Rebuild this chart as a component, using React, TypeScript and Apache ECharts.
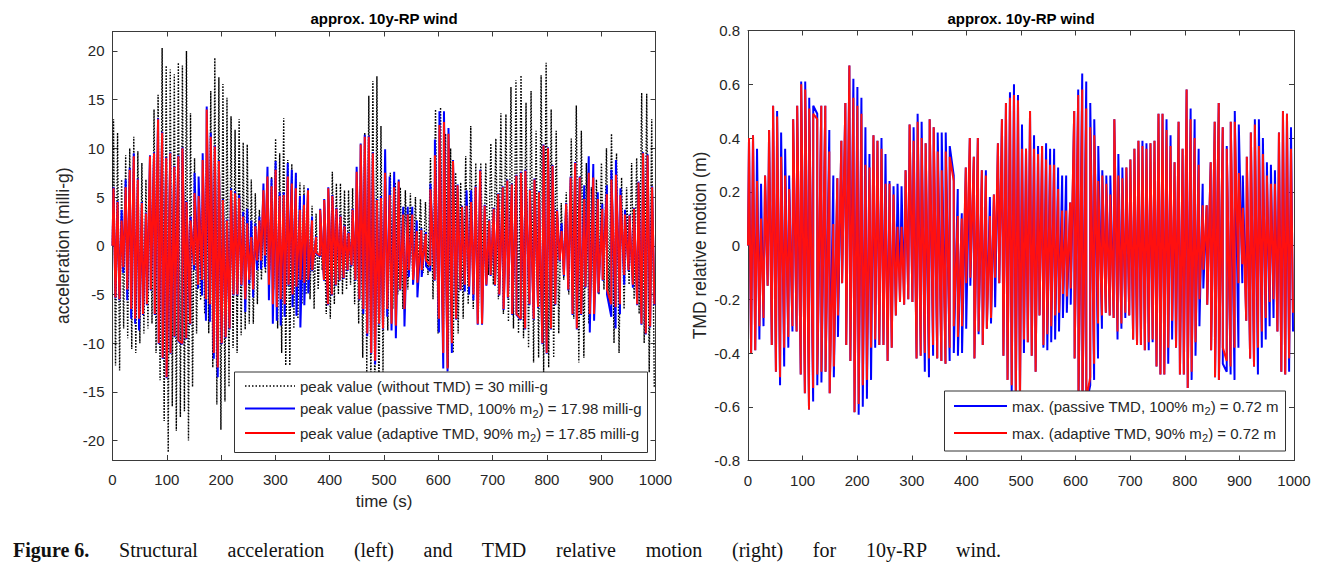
import { useEffect, useRef } from "react";
import * as echarts from "echarts";

// ---------- LEFT: structural acceleration (milli-g), peak values per half-cycle ----------
// first 500 s
const accBlackTopA = [13, 11.6, 6.8, 9.3, 10, 11.2, 9.7, 8.5, 6.8, 9.2, 14, 15.5, 20.3, 18.5, 18.1, 17.6, 18.8, 18.5, 20, 13.6, 9, 4, 5.4, 10, 15.9, 19.3, 17.3, 16.6, 15.2, 13.3, 11.9, 13, 10.6, 10.4, 6.8, 5.4, 3.7, 2.7, 3, 7.1, 11, 9.5, 13.1, 8.8, 8.4, 7.4, 6.5, 6.2, 4.8, 4.1, 3.3, 1.3, 1, 3.7, 7.6, 6.4, 6.4, 5.7, 5.7, 5.9, 5.7, 7.4, 11.6, 15.4, 16.9, 17.4, 12.3];
const accBlackBotA = [-12.3, -12.8, -8.5, -9.5, -10.6, -11, -10, -9, -8.5, -8, -11, -13.8, -18, -21.2, -16.5, -19, -17.6, -17, -20, -14.5, -9, -5.6, -7, -9, -12.5, -16.3, -18.9, -16, -14.5, -10.5, -11, -9.2, -8.6, -8, -8, -6, -3.5, -2.8, -2.5, -4.5, -8.5, -11, -12.3, -12.3, -8.5, -7.5, -6, -5, -5.5, -6.5, -4.5, -2.5, -7, -7.5, -6, -5, -5, -4.5, -4, -6, -8, -11.5, -13, -15, -17, -17.5, -13];
const accBlueTopA = [6.0, 4.6, 3.7, 6.8, 8.0, 9.5, 6.9, 4.5, 3.4, 9.3, 9.6, 13.1, 11.7, 9.1, 9.6, 8.2, 9.3, 10.1, 4.6, 3.0, 7.5, 7.1, 9.5, 14.3, 11.6, 10.3, 8.8, 4.8, 2.7, 5.9, 5.6, 5.2, 3.5, 3.8, 2.6, 2.3, 3.0, 6.4, 8.1, 6.9, 8.7, 5.5, 5.5, 8.5, 7.8, 7.5, 5.1, 5.2, 5.9, 3.0, 1.0, 3.8, 4.8, 6.0, 5.2, 3.9, 3.1, 2.1, 1.4, 3.8, 8.1, 10.5, 11.4, 11.3, 9.6, 4.8, 5.1];
const accBlueBotA = [-5.4, -5.6, -2.8, -5.6, -7.5, -8.0, -8.7, -7.1, -6.1, -4.6, -7.1, -10.1, -11.6, -13.6, -11.1, -9.4, -9.8, -10.1, -9.6, -8.1, -2.5, -4.4, -5.1, -7.7, -7.8, -11.6, -13.5, -10.1, -9.5, -8.6, -5.1, -5.1, -4.1, -6.8, -3.9, -5.3, -2.5, -2.4, -2.2, -5.6, -8.0, -7.7, -8.2, -7.3, -4.1, -6.3, -7.2, -8.4, -6.1, -4.9, -2.6, -0.8, -1.1, -3.6, -6.1, -5.1, -4.1, -3.6, -3.4, -2.6, -2.1, -3.6, -5.6, -7.0, -9.3, -11.1, -12.2, -8.1, -8.6];
const accRedTopA = [5.9, 4.5, 2.6, 6.0, 7.8, 9.2, 6.8, 4.4, 3.3, 9.2, 9.5, 13.0, 11.6, 9.0, 9.5, 8.1, 9.2, 10.0, 4.5, 2.6, 5.4, 5.1, 8.8, 14.0, 11.2, 10.2, 8.7, 4.7, 2.6, 5.7, 5.4, 4.9, 3.0, 2.3, 0.9, 2.0, 2.6, 5.7, 7.1, 6.1, 7.8, 5.1, 5.2, 7.1, 6.4, 5.9, 3.7, 4.2, 5.7, 2.6, 0.9, 3.7, 4.7, 5.9, 5.1, 3.8, 3.0, 2.0, 1.3, 3.7, 7.6, 10.4, 11.2, 11.2, 9.5, 4.7, 4.9];
const accRedBotA = [-5.3, -5.5, -2.2, -4.5, -6.5, -7.5, -7.5, -7.0, -6.0, -4.5, -7.0, -10.0, -11.5, -13.5, -11.0, -9.3, -9.7, -10.0, -9.5, -8.0, -2.0, -4.0, -3.5, -5.5, -6.0, -11.0, -12.5, -10.0, -9.4, -8.5, -5.0, -5.0, -4.0, -5.5, -3.5, -4.5, -1.5, -1.5, -1.0, -4.0, -6.0, -6.3, -5.5, -6.0, -4.0, -5.0, -4.2, -3.5, -3.8, -3.5, -2.5, -0.7, -1.0, -3.5, -6.0, -5.0, -4.0, -3.5, -3.3, -2.5, -2.0, -3.5, -5.5, -6.5, -9.0, -11.0, -11.8, -8.0, -8.5];
// last 500 s
const accBlackTopB = [8, 7.5, 6.5, 6, 5.7, 5.4, 5, 4.8, 4.5, 9, 14, 14.2, 11.5, 10, 7.5, 6.5, 9.2, 12.3, 8.5, 8.5, 8.5, 10.5, 11, 13.6, 13.5, 16.3, 17, 17.5, 14.7, 15.9, 11.8, 17.5, 18.8, 14, 11.8, 4.4, 5.5, 11, 14.4, 11.8, 8.5, 6, 6.8, 8.5, 10, 11.5, 9.5, 7, 6, 8.5, 9, 15.7, 15.6, 13];
const accBlackBotB = [-8.7, -6.5, -5, -6.5, -4.5, -4, -3.5, -2.8, -3, -5.5, -9, -11, -12.5, -11, -9, -7.5, -6, -6.5, -7.5, -3.5, -3, -4, -5.5, -7, -7.8, -8.5, -9, -9.5, -10.5, -12, -11.5, -13, -12.5, -11.5, -9, -3.5, -5, -7.5, -12, -11.5, -8, -6, -5, -4.5, -6, -10, -11, -6.5, -4, -5.5, -7, -10, -13, -14.5];
const accBlueTopB = [9.9, 7.1, 7.6, 6.8, 4.0, 4.0, 4.0, 2.6, 1.8, 1.4, 6.4, 10.9, 13.8, 13.8, 12.1, 8.8, 6.3, 4.1, 5.7, 5.7, 6.1, 7.8, 4.2, 2.7, 3.9, 5.4, 6.1, 6.8, 6.4, 7.3, 7.6, 7.8, 5.8, 6.9, 5.6, 10.4, 10.1, 8.3, 3.7, 2.3, 4.4, 7.1, 8.6, 7.1, 6.2, 9.2, 8.4, 5.5, 4.3, 6.2, 7.8, 8.8, 5.9, 3.7, 3.2, 3.9, 6.6, 9.6, 9.4, 6.1];
const accBlueBotB = [-7.3, -8.7, -9.5, -4.6, -8.3, -3.2, -4.0, -5.3, -3.2, -2.1, -2.6, -3.6, -8.9, -12.6, -12.9, -11.0, -7.6, -4.6, -4.7, -5.0, -5.6, -8.1, -8.1, -4.1, -3.1, -4.1, -5.1, -6.6, -5.4, -7.1, -7.1, -7.6, -8.6, -6.1, -7.6, -6.4, -10.1, -11.1, -8.6, -6.1, -1.6, -3.1, -4.6, -7.1, -8.6, -7.1, -4.3, -8.9, -7.7, -4.9, -3.6, -5.0, -7.3, -8.5, -7.0, -4.0, -2.6, -4.3, -6.1, -8.1, -9.1, -8.4, -6.1];
const accRedTopB = [7.5, 5.2, 6.0, 6.6, 3.2, 3.2, 3.2, 1.5, 1.6, 1.2, 5.8, 9.3, 12.4, 12.7, 11.5, 8.7, 6.2, 4.0, 4.1, 4.5, 6.0, 7.7, 4.1, 2.6, 3.8, 5.3, 6.0, 6.7, 6.3, 7.2, 7.5, 7.7, 5.7, 6.8, 5.5, 10.3, 10.0, 8.2, 3.6, 1.5, 4.3, 7.0, 8.5, 7.0, 4.8, 7.5, 7.0, 4.8, 3.8, 5.3, 6.8, 7.3, 5.2, 3.2, 3.1, 3.8, 6.5, 9.5, 9.3, 6.0];
const accRedBotB = [-6.5, -8.0, -8.2, -4.5, -6.5, -2.5, -3.5, -3.8, -2.5, -1.5, -2.0, -3.5, -7.5, -11.0, -12.6, -10.0, -7.5, -4.5, -4.0, -4.2, -5.0, -8.0, -8.0, -4.0, -3.0, -4.0, -5.0, -6.5, -5.3, -7.0, -7.0, -7.5, -8.5, -6.0, -7.5, -6.3, -10.0, -11.0, -8.5, -6.0, -1.5, -3.0, -4.5, -7.0, -8.5, -7.0, -4.2, -7.0, -7.0, -4.8, -3.5, -4.5, -6.0, -6.3, -6.0, -3.0, -2.5, -4.0, -6.0, -8.0, -9.0, -8.3, -6.0];

// ---------- RIGHT: TMD relative motion (m) ----------
const motBlueTopA = [.40, .41, .36, .23, .26, .43, .52, .50, .42, .36, .26, .47, .52, .61, .61, .55, .52, .49, .52, .52, .43, .26, .25, .39, .53, .67, .62, .59, .55, .44, .34, .41, .39, .40, .34, .24, .22, .23, .22, .28, .45, .44, .49, .46, .38, .47, .44, .42, .42, .42, .37, .26, .21, .12, .29, .40, .33, .40, .28, .28, .18, .19, .38, .47, .53, .57, .60, .56];
const motBlueBotA = [-.40, -.39, -.35, -.30, -.15, -.37, -.47, -.52, -.45, -.38, -.32, -.32, -.48, -.55, -.61, -.58, -.52, -.51, -.47, -.55, -.49, -.34, -.14, -.37, -.43, -.62, -.63, -.60, -.57, -.50, -.38, -.37, -.37, -.43, -.38, -.26, -.21, -.22, -.20, -.21, -.42, -.41, -.47, -.49, -.41, -.42, -.43, -.44, -.43, -.40, -.41, -.40, -.31, -.15, -.42, -.33, -.37, -.31, -.29, -.23, -.14, -.41, -.50, -.55, -.58, -.58];
const motRedTopA = [.40, .41, .24, .10, .26, .43, .52, .48, .33, .26, .21, .47, .52, .60, .58, .51, .49, .47, .52, .52, .35, .08, .25, .39, .53, .67, .55, .52, .49, .30, .29, .41, .39, .36, .23, .23, .19, .07, .07, .28, .45, .39, .46, .40, .38, .47, .44, .35, .28, .35, .33, .24, .11, .10, .29, .40, .33, .40, .28, .26, .11, .19, .38, .47, .53, .55, .56, .54];
const motRedBotA = [-.40, -.39, -.30, -.27, -.15, -.37, -.47, -.49, -.38, -.34, -.30, -.32, -.48, -.55, -.61, -.53, -.48, -.47, -.47, -.55, -.45, -.26, -.14, -.37, -.43, -.62, -.59, -.52, -.50, -.38, -.35, -.37, -.37, -.43, -.38, -.26, -.21, -.22, -.20, -.21, -.42, -.41, -.40, -.42, -.37, -.42, -.43, -.44, -.38, -.30, -.34, -.30, -.14, -.12, -.42, -.32, -.37, -.31, -.27, -.12, -.14, -.41, -.50, -.52, -.57, -.58];
const motBlueTopB = [.45, .36, .50, .41, .37, .37, .38, .36, .36, .29, .26, .26, .16, .50, .58, .64, .61, .53, .47, .37, .28, .26, .26, .47, .34, .29, .29, .32, .36, .39, .39, .38, .38, .39, .49, .49, .47, .41, .31, .46, .36, .58, .51, .47, .36, .23, .15, .31, .46, .53, .44, .37, .46, .50, .45, .26, .33, .42, .47, .47, .40, .31, .30, .28, .42, .50, .49, .44];
const motBlueBotB = [-.40, -.36, -.41, -.47, -.26, -.38, -.39, -.36, -.35, -.32, -.27, -.25, -.22, -.42, -.58, -.62, -.59, -.52, -.50, -.42, -.31, -.25, -.26, -.27, -.35, -.31, -.27, -.26, -.35, -.37, -.37, -.39, -.39, -.36, -.45, -.48, -.48, -.44, -.35, -.38, -.48, -.48, -.53, -.50, -.41, -.30, -.16, -.22, -.39, -.49, -.50, -.44, -.47, -.48, -.50, -.38, -.14, -.28, -.42, -.45, -.48, -.38, -.35, -.30, -.27, -.32, -.47, -.48, -.47, -.32];
const motRedTopB = [.36, .36, .50, .36, .34, .37, .32, .30, .30, .21, .13, .13, .16, .50, .56, .58, .51, .44, .41, .24, .26, .23, .19, .47, .26, .25, .29, .32, .36, .39, .37, .36, .38, .39, .49, .49, .43, .37, .31, .46, .36, .58, .47, .40, .30, .15, .15, .31, .46, .53, .44, .36, .46, .46, .27, .14, .33, .42, .45, .37, .34, .26, .23, .23, .42, .50, .49, .36];
const motRedBotB = [-.35, -.36, -.41, -.47, -.26, -.37, -.33, -.30, -.26, -.25, -.18, -.19, -.16, -.42, -.55, -.59, -.57, -.49, -.44, -.29, -.26, -.25, -.26, -.27, -.32, -.29, -.25, -.26, -.35, -.37, -.37, -.39, -.36, -.35, -.45, -.48, -.48, -.38, -.28, -.38, -.48, -.48, -.53, -.47, -.36, -.20, -.09, -.22, -.39, -.49, -.50, -.38, -.43, -.45, -.38, -.14, -.07, -.28, -.42, -.45, -.38, -.32, -.27, -.21, -.20, -.32, -.47, -.48, -.42, -.25];

const xTicks = [0, 1000, 100];
const accTicks = [-20, -15, -10, -5, 0, 5, 10, 15, 20];
const accRange = [-22, 22];
const motRange = [-0.8, 0.8, 0.2];

const titleText = "approx. 10y-RP wind";
const accLegend = [
  { kind: "black", text: "{n|peak value (without TMD) = 30 milli-g}" },
  { kind: "blue", text: "{n|peak value (passive TMD, 100% m}{s|2}{n|) = 17.98 milli-g}" },
  { kind: "red", text: "{n|peak value (adaptive TMD, 90% m}{s|2}{n|) = 17.85 milli-g}" },
];
const motLegend = [
  { kind: "blue", text: "{n|max. (passive TMD, 100% m}{s|2}{n|) = 0.72 m}" },
  { kind: "red", text: "{n|max. (adaptive TMD, 90% m}{s|2}{n|) = 0.72 m}" },
];

// peaks of each half of the record are spread evenly over that half; merged by time
function peaks(topA: number[], botA: number[], topB: number[], botB: number[]) {
  const pts: [number, number][] = [[0, 0]];
  const add = (arr: number[], t0: number, t1: number, ph: number) => {
    const step = (t1 - t0) / arr.length;
    arr.forEach((v, i) => pts.push([t0 + (i + ph) * step, v]));
  };
  add(topA, 0, 500, 0.25);
  add(botA, 0, 500, 0.75);
  add(topB, 500, 1000, 0.25);
  add(botB, 500, 1000, 0.75);
  pts.sort((a, b) => a[0] - b[0]);
  return pts;
}

const FONT = "'Liberation Sans', Arial, Helvetica, sans-serif";
const AX = "#3a3a3a";
const TXT = "#262626";

export default function App() {
  const ref = useRef<HTMLDivElement>(null);
  useEffect(() => {
    if (!ref.current) return;
    const chart = echarts.init(ref.current, undefined, { renderer: "svg" });
    const G1 = { left: 112.5, top: 31.5, width: 543, height: 428.5 };
    const G2 = { left: 748, top: 30.5, width: 546, height: 430 };

    const baseX = (gridIndex: number, pos: "bottom" | "top", labels: boolean, name?: string) => ({
      type: "value",
      gridIndex,
      position: pos,
      min: xTicks[0],
      max: xTicks[1],
      interval: xTicks[2],
      name: name,
      nameLocation: "middle",
      nameGap: 33,
      nameTextStyle: { fontSize: 17, color: TXT, fontFamily: FONT },
      axisLine: { show: true, onZero: false, lineStyle: { color: AX, width: 1 } },
      axisTick: { show: true, inside: true, length: 5, lineStyle: { color: AX } },
      axisLabel: { show: labels, fontSize: 15, color: TXT, fontFamily: FONT, margin: 12, formatter: (v: number) => String(v) },
      splitLine: { show: false },
    });
    const accY = (pos: "left" | "right", labels: boolean, name?: string) => ({
      type: "value",
      gridIndex: 0,
      position: pos,
      min: accRange[0],
      max: accRange[1],
      name,
      nameLocation: "middle",
      nameGap: 41,
      nameTextStyle: { fontSize: 17.5, color: TXT, fontFamily: FONT },
      axisLine: { show: true, onZero: false, lineStyle: { color: AX, width: 1 } },
      axisTick: { show: true, inside: true, length: 5, customValues: accTicks, lineStyle: { color: AX } },
      axisLabel: { show: labels, fontSize: 15, color: TXT, fontFamily: FONT, margin: 8, customValues: accTicks },
      splitLine: { show: false },
    });
    const motY = (pos: "left" | "right", labels: boolean, name?: string) => ({
      type: "value",
      gridIndex: 1,
      position: pos,
      min: motRange[0],
      max: motRange[1],
      interval: motRange[2],
      name,
      nameLocation: "middle",
      nameGap: 39,
      nameTextStyle: { fontSize: 17.5, color: TXT, fontFamily: FONT },
      axisLine: { show: true, onZero: false, lineStyle: { color: AX, width: 1 } },
      axisTick: { show: true, inside: true, length: 5, lineStyle: { color: AX } },
      axisLabel: {
        show: labels, fontSize: 15, color: TXT, fontFamily: FONT, margin: 8,
        formatter: (v: number) => (Math.abs(v) < 1e-9 ? "0" : v.toFixed(1)),
      },
      splitLine: { show: false },
    });

    const lineSeries = (xi: number, yi: number, data: [number, number][], color: string, width: number, type: any) => ({
      type: "line",
      xAxisIndex: xi,
      yAxisIndex: yi,
      data,
      showSymbol: false,
      symbol: "none",
      silent: true,
      lineStyle: { color, width, type },
      emphasis: { disabled: true },
    });

    const legendGraphic = (
      box: { x: number; y: number; w: number; h: number },
      lx0: number, lx1: number, tx: number, rows: number[],
      items: { kind: string; text: string }[]
    ) => {
      const els: any[] = [
        { type: "rect", shape: { x: box.x, y: box.y, width: box.w, height: box.h }, style: { fill: "#fff", stroke: "#333", lineWidth: 1 }, z: 100 },
      ];
      items.forEach((it, i) => {
        const y = rows[i];
        const col = it.kind === "black" ? "#000" : it.kind === "blue" ? "#0000ff" : "#ff0000";
        els.push({
          type: "line",
          shape: { x1: lx0, y1: y, x2: lx1, y2: y },
          style: { stroke: col, lineWidth: it.kind === "black" ? 1.3 : 2, lineDash: it.kind === "black" ? [1.5, 2] : null },
          z: 101,
        });
        els.push({
          type: "text",
          x: tx,
          y: y - 10,
          z: 101,
          style: {
            text: it.text,
            fontSize: 15,
            fontFamily: FONT,
            fill: TXT,
            verticalAlign: "top",
            align: "left",
            rich: {
              n: { fontSize: 15, fontFamily: FONT, fill: TXT, lineHeight: 20, height: 20, verticalAlign: "top" },
              s: { fontSize: 11, fontFamily: FONT, fill: TXT, lineHeight: 10, height: 10, verticalAlign: "bottom" },
            },
          },
        });
      });
      return els;
    };

    chart.setOption({
      animation: false,
      backgroundColor: "#fff",
      grid: [
        { ...G1, outerBoundsMode: "none", containLabel: false },
        { ...G2, outerBoundsMode: "none", containLabel: false },
      ],
      xAxis: [
        baseX(0, "bottom", true, "time (s)"),
        baseX(0, "top", false),
        baseX(1, "bottom", true),
        baseX(1, "top", false),
      ],
      yAxis: [
        accY("left", true, "acceleration (milli-g)"),
        accY("right", false),
        motY("left", true, "TMD relative motion (m)"),
        motY("right", false),
      ],
      series: [
        lineSeries(0, 0, peaks(accBlackTopA, accBlackBotA, accBlackTopB, accBlackBotB), "#000", 1.4, [1.6, 1.4]),
        lineSeries(0, 0, peaks(accBlueTopA, accBlueBotA, accBlueTopB, accBlueBotB), "#0000ff", 2, "solid"),
        lineSeries(0, 0, peaks(accRedTopA, accRedBotA, accRedTopB, accRedBotB), "#ff1010", 2, "solid"),
        lineSeries(2, 2, peaks(motBlueTopA, motBlueBotA, motBlueTopB, motBlueBotB), "#0000ff", 2, "solid"),
        lineSeries(2, 2, peaks(motRedTopA, motRedBotA, motRedTopB, motRedBotB), "#ff1010", 2, "solid"),
      ],
      graphic: [
        { type: "text", x: 384, y: 18, z: 101, style: { text: titleText, fontSize: 15, fontWeight: "bold", fontFamily: FONT, fill: "#000", align: "center", verticalAlign: "middle" } },
        { type: "text", x: 1021, y: 18, z: 101, style: { text: titleText, fontSize: 15, fontWeight: "bold", fontFamily: FONT, fill: "#000", align: "center", verticalAlign: "middle" } },
        ...legendGraphic({ x: 234.5, y: 372, w: 413, h: 80.5 }, 245, 295, 300, [386, 408.5, 433], accLegend),
        ...legendGraphic({ x: 944.5, y: 391, w: 341, h: 60 }, 954, 1007, 1012, [406, 433], motLegend),
      ],
    });
    return () => chart.dispose();
  }, []);

  return (
    <div style={{ position: "fixed", left: 0, top: 0, width: 1330, height: 579, background: "#fff" }}>
      <div ref={ref} style={{ position: "absolute", left: 0, top: 0, width: 1330, height: 525 }} />
      <div
        style={{
          position: "absolute",
          left: 13,
          top: 538,
          width: 988,
          fontFamily: "'Liberation Serif', 'Times New Roman', serif",
          fontSize: 20,
          lineHeight: "24px",
          color: "#111",
          textAlign: "justify",
          textAlignLast: "justify",
        }}
      >
        <b style={{ display: "inline-block" }}>Figure 6.</b> Structural acceleration (left) and TMD relative motion (right) for 10y-RP wind.
      </div>
    </div>
  );
}
